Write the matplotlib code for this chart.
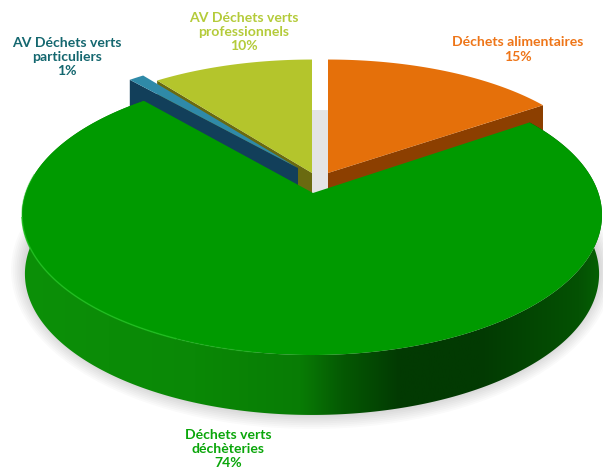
#!/usr/bin/env python3
"""Perspective 3D style pie: origin of the green waste streams."""
import numpy as np

import matplotlib
matplotlib.use("Agg")
import matplotlib.pyplot as plt  # noqa: E402
from matplotlib.colors import LinearSegmentedColormap  # noqa: E402
from matplotlib.patches import Ellipse, Polygon  # noqa: E402

plt.rcParams["font.family"] = ["Lato", "DejaVu Sans"]

# clockwise from 12 o'clock
names = ["Déchets alimentaires", "Déchets verts\ndéchèteries",
         "AV Déchets verts\nparticuliers", "AV Déchets verts\nprofessionnels"]
values = [15, 74, 1, 10]
top_colors = ["#e5700a", "#009a00", "#2f8aa8", "#b4c52c"]
cut_colors = ["#8c3f00", "#0a6a06", "#123f5a", "#6a6a10"]
text_colors = ["#ee7518", "#0aa60a", "#14676f", "#b4cb3a"]
text_pos = [(518, 49.5), (228, 449), (67, 57), (244, 32)]

# projected circle for each slice: centre x/y, half axes, perspective, wedge tip
geom = [
    dict(cx=328, cy=173, a=272, b=118, k=0.04, tip=(328, 173)),
    dict(cx=312, cy=198.2, a=287.9, b=138, k=0.12, tip=(313, 193)),
    dict(cx=298, cy=168, a=272, b=118, k=0.04, tip=(298, 168)),
    dict(cx=312, cy=173, a=272, b=118, k=0.04, tip=(312, 173)),
]
# lower outline of the green wall
wall_geom = dict(cx=312, cy=257, a=285, b=139, k=0.12)
CUT_DEPTH = 42


def rim(g, deg):
    t = np.radians(deg)
    d = 1 + g["k"] * np.cos(t)
    return np.column_stack((g["cx"] + g["a"] * np.sin(t) / d,
                            g["cy"] - g["b"] * np.cos(t) / d))


def main():
    fig = plt.figure(figsize=(6.03, 4.75), dpi=100)
    ax = fig.add_axes([0, 0, 1, 1])
    ax.axis("off")

    # soft shadow under the pie
    for grow in np.linspace(13, 0, 8):
        ax.add_patch(Ellipse((312, 270), 2 * (288 + grow), 2 * (146 + grow),
                             fc="#000000", ec="none", alpha=0.018, zorder=1))
    ax.add_patch(Ellipse((313, 225), 570, 230, fc="#e4e4e4", ec="none", zorder=1))

    bounds = np.cumsum([0] + values) * 3.6

    # back slices first, green goes on top of their cut faces
    for z, i in enumerate((0, 3, 2)):
        g = geom[i]
        arc = rim(g, np.linspace(bounds[i], bounds[i + 1], 60))
        tip = np.array(g["tip"], dtype=float)
        edge = arc[-1] if i == 0 else arc[0]
        face = np.array([tip, edge, edge + [0, CUT_DEPTH], tip + [0, CUT_DEPTH]])
        ax.add_patch(Polygon(face, fc=cut_colors[i], ec="none", zorder=2 + z))
        ax.add_patch(Polygon(np.vstack((tip, arc)), fc=top_colors[i], ec="none",
                             zorder=2 + z))

    # green slice: side wall with a horizontal gradient, then the top face
    g = geom[1]
    angles = np.linspace(bounds[1], bounds[2], 400)
    arc = rim(g, angles)
    wall = np.vstack((arc, rim(wall_geom, angles)[::-1]))
    cmap = LinearSegmentedColormap.from_list(
        "wall", [(0, "#0c9008"), (0.3, "#0a8806"), (0.48, "#087c05"),
                 (0.55, "#055a03"), (0.65, "#023a02"), (0.79, "#023a02"),
                 (0.96, "#045203"), (1, "#066204")])
    im = ax.imshow(np.linspace(0, 1, 256)[None, :], cmap=cmap, aspect="auto",
                   extent=(20, 604, 450, 100), zorder=7)
    patch = Polygon(wall, fc="none", ec="none", transform=ax.transData, zorder=7)
    ax.add_patch(patch)
    im.set_clip_path(patch)

    ax.add_patch(Polygon(np.vstack((g["tip"], arc)), fc=top_colors[1], ec="none",
                         zorder=8))

    # light line along the front lip
    for lo, hi, alpha in [(262, 280, 0.4), (205, 262, 0.8), (190, 205, 0.35)]:
        lip = rim(g, np.linspace(lo, hi, 60))
        ax.plot(lip[:, 0], lip[:, 1], color="#1fc01f", lw=1.1, alpha=alpha,
                zorder=9)

    for name, val, col, (x, y) in zip(names, values, text_colors, text_pos):
        ax.text(x, y, f"{name}\n{val}%", color=col, fontsize=10.1,
                fontweight="bold", ha="center", va="center", linespacing=1.22,
                zorder=10)

    ax.set_xlim(0, 603)
    ax.set_ylim(475, 0)
    fig.savefig("out.png", dpi=100)
    plt.close(fig)


if __name__ == "__main__":
    main()
